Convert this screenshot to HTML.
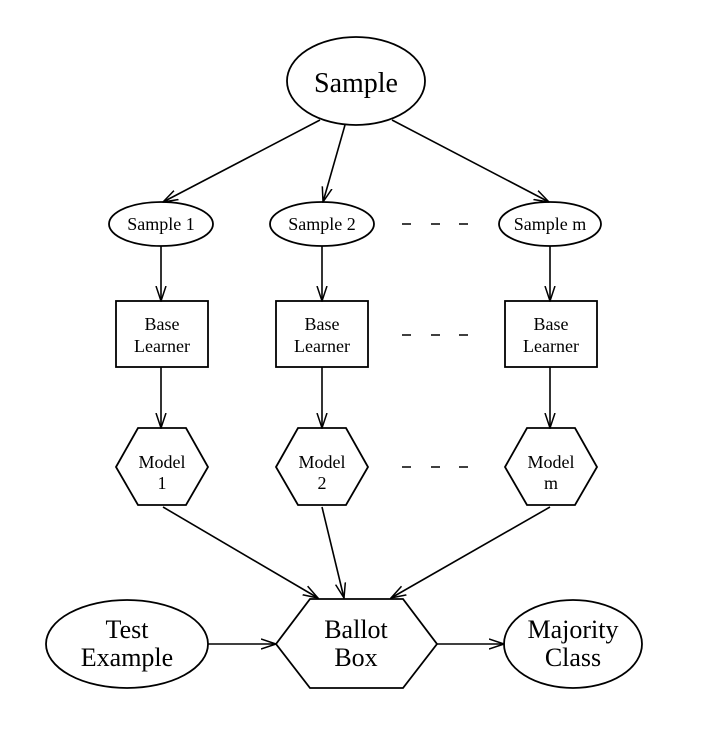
<!DOCTYPE html>
<html><head><meta charset="utf-8"><style>
html,body{margin:0;padding:0;background:#fff;}
svg{display:block;}
text{font-family:"Liberation Serif",serif;fill:#000;text-anchor:middle;}
</style></head><body>
<svg width="704" height="734" viewBox="0 0 704 734" xmlns="http://www.w3.org/2000/svg">
<defs>
<marker id="a" markerWidth="16" markerHeight="12" refX="15" refY="6" orient="auto" markerUnits="userSpaceOnUse">
<path d="M0,1 L15,6 L0,11" fill="none" stroke="#000" stroke-width="1.5"/>
</marker>
</defs>
<g stroke="#000" stroke-width="1.8" fill="none">
<ellipse cx="356" cy="81" rx="69" ry="44"/>
<ellipse cx="161" cy="224" rx="52" ry="22"/>
<ellipse cx="322" cy="224" rx="52" ry="22"/>
<ellipse cx="550" cy="224" rx="51" ry="22"/>
<rect x="116" y="301" width="92" height="66"/>
<rect x="276" y="301" width="92" height="66"/>
<rect x="505" y="301" width="92" height="66"/>
<polygon points="116,467 138,428 186,428 208,467 186,505 138,505"/>
<polygon points="276,467 298,428 346,428 368,467 346,505 298,505"/>
<polygon points="505,467 527,428 575,428 597,467 575,505 527,505"/>
<polygon points="276,644 310,599 403,599 437,644 403,688 310,688"/>
<ellipse cx="127" cy="644" rx="81" ry="44"/>
<ellipse cx="573" cy="644" rx="69" ry="44"/>
</g>
<g stroke="#000" stroke-width="1.6" fill="none" marker-end="url(#a)">
<line x1="320" y1="120" x2="163" y2="202"/>
<line x1="345" y1="125" x2="323" y2="202"/>
<line x1="392" y1="120" x2="549" y2="202"/>
<line x1="161" y1="246" x2="161" y2="301"/>
<line x1="322" y1="246" x2="322" y2="301"/>
<line x1="550" y1="246" x2="550" y2="301"/>
<line x1="161" y1="367" x2="161" y2="428"/>
<line x1="322" y1="367" x2="322" y2="428"/>
<line x1="550" y1="367" x2="550" y2="428"/>
<line x1="163" y1="507" x2="318" y2="598"/>
<line x1="322" y1="507" x2="344" y2="598"/>
<line x1="550" y1="507" x2="391" y2="598"/>
<line x1="208" y1="644" x2="276" y2="644"/>
<line x1="437" y1="644" x2="504" y2="644"/>
</g>
<g stroke="#000" stroke-width="1.5">
<line x1="402" y1="224" x2="411" y2="224"/><line x1="431" y1="224" x2="440" y2="224"/><line x1="459" y1="224" x2="468" y2="224"/>
<line x1="402" y1="335" x2="411" y2="335"/><line x1="431" y1="335" x2="440" y2="335"/><line x1="459" y1="335" x2="468" y2="335"/>
<line x1="402" y1="467" x2="411" y2="467"/><line x1="431" y1="467" x2="440" y2="467"/><line x1="459" y1="467" x2="468" y2="467"/>
</g>
<text x="356" y="92" font-size="28">Sample</text>
<text x="161" y="230" font-size="18">Sample 1</text>
<text x="322" y="230" font-size="18">Sample 2</text>
<text x="550" y="230" font-size="18">Sample m</text>
<text x="162" y="330" font-size="18">Base</text><text x="162" y="352" font-size="18">Learner</text>
<text x="322" y="330" font-size="18">Base</text><text x="322" y="352" font-size="18">Learner</text>
<text x="551" y="330" font-size="18">Base</text><text x="551" y="352" font-size="18">Learner</text>
<text x="162" y="468" font-size="18">Model</text><text x="162" y="489" font-size="18">1</text>
<text x="322" y="468" font-size="18">Model</text><text x="322" y="489" font-size="18">2</text>
<text x="551" y="468" font-size="18">Model</text><text x="551" y="489" font-size="18">m</text>
<text x="127" y="638" font-size="26">Test</text><text x="127" y="666" font-size="26">Example</text>
<text x="356" y="638" font-size="26">Ballot</text><text x="356" y="666" font-size="26">Box</text>
<text x="573" y="638" font-size="26">Majority</text><text x="573" y="666" font-size="26">Class</text>
</svg>
</body></html>
